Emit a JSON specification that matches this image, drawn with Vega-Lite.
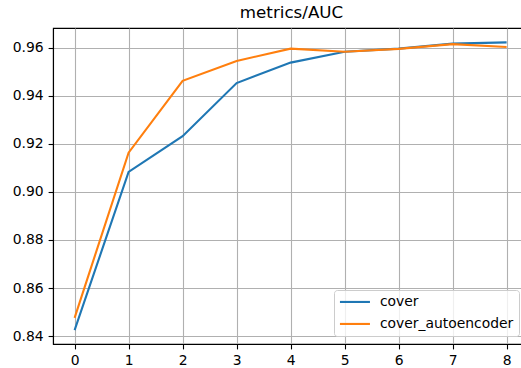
{
  "$schema": "https://vega.github.io/schema/vega-lite/v6.json",
  "autosize": {"type": "none"},
  "padding": {"left": 53, "top": 28, "right": 0, "bottom": 24},
  "width": 469,
  "height": 316,
  "title": {"text": "metrics/AUC", "font": "DejaVu Sans", "fontSize": 16.7, "fontWeight": "normal", "color": "black", "offset": 6, "dx": 4},
  "data": {"values": [
    {"epoch": 0, "series": "cover", "auc": 0.8425},
    {"epoch": 1, "series": "cover", "auc": 0.9083},
    {"epoch": 2, "series": "cover", "auc": 0.9232},
    {"epoch": 3, "series": "cover", "auc": 0.9453},
    {"epoch": 4, "series": "cover", "auc": 0.9538},
    {"epoch": 5, "series": "cover", "auc": 0.9583},
    {"epoch": 6, "series": "cover", "auc": 0.9596},
    {"epoch": 7, "series": "cover", "auc": 0.9617},
    {"epoch": 8, "series": "cover", "auc": 0.9622},
    {"epoch": 0, "series": "cover_autoencoder", "auc": 0.8476},
    {"epoch": 1, "series": "cover_autoencoder", "auc": 0.9163},
    {"epoch": 2, "series": "cover_autoencoder", "auc": 0.9462},
    {"epoch": 3, "series": "cover_autoencoder", "auc": 0.9545},
    {"epoch": 4, "series": "cover_autoencoder", "auc": 0.9596},
    {"epoch": 5, "series": "cover_autoencoder", "auc": 0.9583},
    {"epoch": 6, "series": "cover_autoencoder", "auc": 0.9595},
    {"epoch": 7, "series": "cover_autoencoder", "auc": 0.9615},
    {"epoch": 8, "series": "cover_autoencoder", "auc": 0.9603}
  ]},
  "mark": {"type": "line", "strokeWidth": 2.1, "clip": true},
  "encoding": {
    "x": {"field": "epoch", "type": "quantitative",
      "scale": {"domain": [-0.4, 8.285], "nice": false, "zero": false},
      "axis": {"title": null, "values": [0,1,2,3,4,5,6,7,8], "format": "d"}},
    "y": {"field": "auc", "type": "quantitative",
      "scale": {"domain": [0.8367, 0.9682], "nice": false, "zero": false},
      "axis": {"title": null, "values": [0.84,0.86,0.88,0.90,0.92,0.94,0.96], "format": ".2f"}},
    "color": {"field": "series", "type": "nominal",
      "scale": {"domain": ["cover", "cover_autoencoder"], "range": ["#1f77b4", "#ff7f0e"]},
      "legend": {"orient": "none", "legendX": 281, "legendY": 262, "title": null,
        "symbolType": "M-1.2,0L4.8,0", "symbolSize": 100, "symbolStrokeWidth": 2.1,
        "labelFont": "DejaVu Sans", "labelFontSize": 13.9, "labelColor": "black",
        "labelOffset": 27, "padding": 5, "rowPadding": 7,
        "fillColor": "rgba(255,255,255,0.8)", "strokeColor": "#cccccc", "cornerRadius": 3}}
  },
  "config": {
    "view": {"stroke": "black", "strokeWidth": 1.1},
    "axis": {
      "labelFont": "DejaVu Sans", "labelFontSize": 13.9, "labelColor": "black",
      "tickColor": "black", "tickSize": 4.9, "tickWidth": 1.1, "labelPadding": 4.9,
      "domainColor": "black", "domainWidth": 1.1,
      "grid": true, "gridColor": "#b0b0b0", "gridWidth": 1.1,
      "labelFlush": false, "labelOverlap": false
    }
  }
}
